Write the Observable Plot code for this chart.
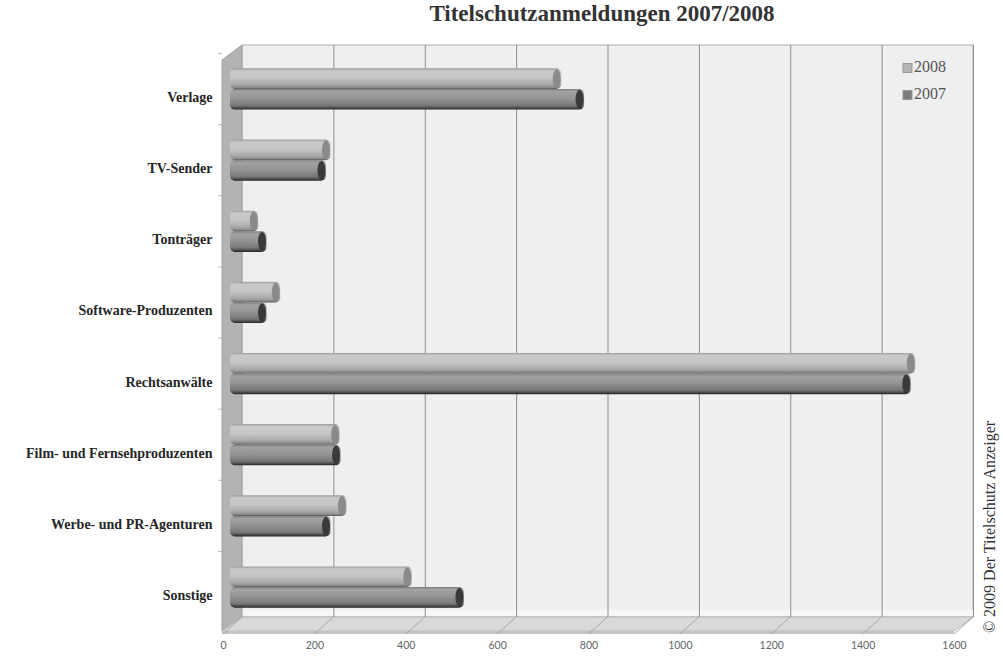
<!DOCTYPE html>
<html>
<head>
<meta charset="utf-8">
<script src="https://cdn.jsdelivr.net/npm/d3@7"></script>
<script src="https://cdn.jsdelivr.net/npm/@observablehq/plot@0.6"></script>
<style>
  html, body { margin: 0; padding: 0; background: #fff; }
  #wrap { position: relative; width: 1003px; height: 656px; overflow: hidden; }
  #title { position: absolute; left: 0; width: 1204px; top: 1px; text-align: center;
           font-family: "Liberation Serif", serif; font-weight: bold; font-size: 23px; color: #333; }
  #wrap svg { position: absolute; left: 0; top: 0; }
</style>
</head>
<body>
<div id="wrap">
  <div id="title">Titelschutzanmeldungen 2007/2008</div>
</div>
<script>
const categories = ["Verlage", "TV-Sender", "Tonträger", "Software-Produzenten", "Rechtsanwälte",
  "Film- und Fernsehproduzenten", "Werbe- und PR-Agenturen", "Sonstige"];
const years = ["2008", "2007"];
const values2008 = [725, 220, 62, 110, 1500, 240, 255, 398];
const values2007 = [775, 210, 80, 80, 1490, 242, 220, 512];
const xTicks = [0, 200, 400, 600, 800, 1000, 1200, 1400, 1600];
const capFill = {"2008": "#8a8a8a", "2007": "#3a3a3a"};
const swatch = {"2008": "#b4b4b4", "2007": "#7c7c7c"};
const copyright = "© 2009 Der Titelschutz Anzeiger";

const rows2008 = categories.map((c, i) => ({category: c, year: "2008", value: values2008[i]}));
const rows2007 = categories.map((c, i) => ({category: c, year: "2007", value: values2007[i]}));

const W = 1003, H = 656;
const bw = 0.58 * 71.15; // band width of a category

const chart = Plot.plot({
  width: W, height: H,
  marginLeft: 230, marginRight: 42, marginTop: 45, marginBottom: 24,
  style: {background: "transparent", overflow: "visible"},
  x: {domain: [0, 1600], range: [230, 961]},
  y: {domain: categories, range: [53.4, 622.6], paddingInner: 0.42, paddingOuter: 0.21, round: false},
  marks: [
    Plot.gridX(xTicks.slice(1), {dx: 12, insetBottom: 15, stroke: "#8f8f8f", strokeOpacity: 1, strokeWidth: 1}),
    Plot.barX(rows2008, {x: "value", y: "category", fill: "url(#g2008)", insetBottom: bw / 2, rx: 5}),
    Plot.barX(rows2007, {x: "value", y: "category", fill: "url(#g2007)", insetTop: bw / 2, rx: 5}),
    Plot.axisY({tickSize: 0, tickPadding: 18, dy: 8, fontSize: 14, fontWeight: "bold",
      fontFamily: "Liberation Serif, serif", color: "#262626", label: null}),
    Plot.axisX(xTicks, {tickSize: 0, tickPadding: 9, dx: -7, fontSize: 10.5, tickFormat: d => String(d),
      fontFamily: "Lato, sans-serif", color: "#666", label: null})
  ]
});

document.getElementById("wrap").appendChild(chart);

const svg = d3.select(chart);
const xs = chart.scale("x"), ys = chart.scale("y");
const xBack = v => xs.apply(v) + 12;
const xFront = v => xs.apply(v) - 7;
const wallTop = 45, wallBottom = 617, floorFront = 631;

// gradients
const defs = svg.insert("defs", ":first-child");
const g8 = defs.append("linearGradient").attr("id", "g2008").attr("x1", 0).attr("y1", 0).attr("x2", 0).attr("y2", 1);
[["0%", "#9c9c9c"], ["12%", "#c9c9c9"], ["45%", "#c6c6c6"], ["80%", "#a8a8a8"], ["93%", "#8a8a8a"], ["100%", "#555"]]
  .forEach(([o, c]) => g8.append("stop").attr("offset", o).attr("stop-color", c));
const g7 = defs.append("linearGradient").attr("id", "g2007").attr("x1", 0).attr("y1", 0).attr("x2", 0).attr("y2", 1);
[["0%", "#7d7d7d"], ["12%", "#a2a2a2"], ["45%", "#949494"], ["80%", "#787878"], ["92%", "#4a4a4a"], ["100%", "#222"]]
  .forEach(([o, c]) => g7.append("stop").attr("offset", o).attr("stop-color", c));

// 3D walls behind everything
const bg = svg.insert("g", "defs + *");
bg.append("rect").attr("x", xBack(0)).attr("y", wallTop)
  .attr("width", xBack(1600) - xBack(0)).attr("height", wallBottom - wallTop)
  .attr("fill", "#eeeff0").attr("stroke", "#b0b0b0");
bg.append("rect").attr("x", xBack(0)).attr("y", wallBottom - 7)
  .attr("width", xBack(1600) - xBack(0)).attr("height", 6).attr("fill", "#f7f7f7");
bg.append("polygon")
  .attr("points", [[xFront(0) - 1, 60], [xBack(0), wallTop], [xBack(0), wallBottom], [xFront(0) - 1, floorFront]].join(" "))
  .attr("fill", "#b3b3b3").attr("stroke", "#a0a0a0");
bg.append("polygon")
  .attr("points", [[xFront(0) - 1, floorFront], [xBack(0), wallBottom], [xBack(1600), wallBottom], [xFront(1600), floorFront]].join(" "))
  .attr("fill", "#d9d9d9").attr("stroke", "#b8b8b8");
bg.append("polygon")
  .attr("points", [[xFront(0) - 1, floorFront], [xFront(1600), floorFront], [xFront(1600), floorFront + 3], [xFront(0) - 1, floorFront + 3]].join(" "))
  .attr("fill", "#c4c4c4");
xTicks.forEach(v => {
  bg.append("line").attr("x1", xFront(v)).attr("y1", floorFront + 3)
    .attr("x2", xBack(v)).attr("y2", wallBottom).attr("stroke", "#a8a8a8");
});
// small category ticks on the side wall
const step = ys.step;
categories.forEach((c, i) => {
  const yb = ys.apply(c) - (step - ys.bandwidth) / 2;
  bg.append("line").attr("x1", xFront(0) - 5).attr("x2", xFront(0) - 1).attr("y1", yb).attr("y2", yb).attr("stroke", "#bbb");
});

// cylinder end caps
const capG = svg.append("g");
[[rows2008, 0], [rows2007, 1]].forEach(([rows, k]) => {
  rows.forEach(d => {
    const y0 = ys.apply(d.category) + k * ys.bandwidth / 2;
    const h = ys.bandwidth / 2;
    capG.append("ellipse").attr("cx", xs.apply(d.value) - 4.5).attr("cy", y0 + h / 2)
      .attr("rx", 4).attr("ry", h / 2 - 0.8).attr("fill", capFill[d.year]);
  });
});

// copyright
svg.append("text").attr("transform", "translate(991,527) rotate(-90)")
  .attr("text-anchor", "middle").attr("dominant-baseline", "middle")
  .attr("font-family", "Liberation Serif, serif").attr("font-size", 16).attr("fill", "#333")
  .text(copyright);

// legend (inside the plot, top right)
const lg = svg.append("g").attr("font-family", "Liberation Serif, serif").attr("font-size", 16)
  .attr("fill", "#555").attr("text-anchor", "start");
years.forEach((y, i) => {
  const cy = 68 + i * 27;
  lg.append("rect").attr("x", 903).attr("y", cy - 4.5).attr("width", 9).attr("height", 9)
    .attr("fill", swatch[y]).attr("stroke", "#999");
  lg.append("text").attr("x", 914).attr("y", cy).attr("text-anchor", "start")
    .attr("dominant-baseline", "middle").text(y);
});
</script>
</body>
</html>
